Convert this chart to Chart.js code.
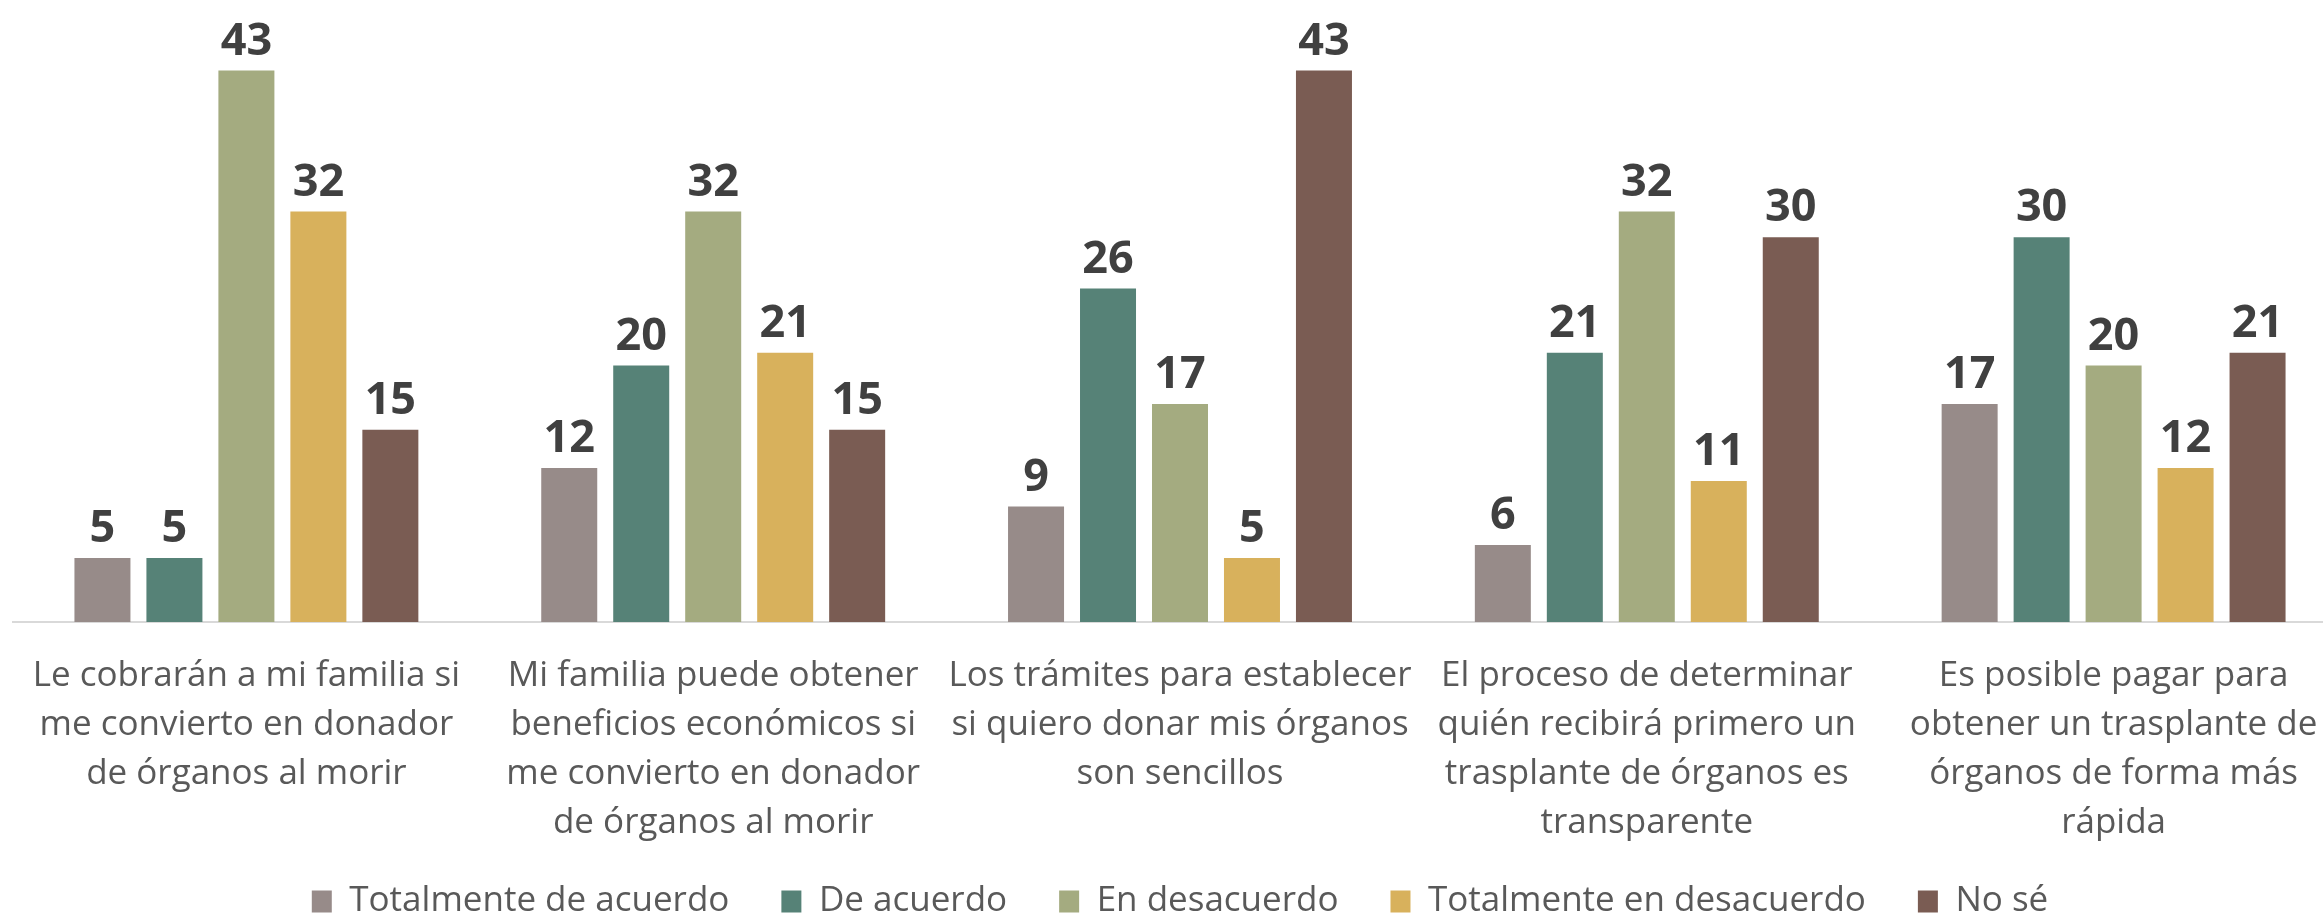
<!DOCTYPE html>
<html>
<head>
<meta charset="utf-8">
<script src="https://cdn.jsdelivr.net/npm/chart.js@4/dist/chart.umd.min.js"></script>
<style>
  html, body { margin:0; padding:0; background:#fff; overflow:hidden; }
  #wrap { position:absolute; left:0; top:0; width:2360px; height:929px; }
</style>
</head>
<body>
<div id="wrap"><canvas id="chartCanvas"></canvas></div>
<script>
// categories (wrapped as in the original)
const categories = [
  ['Le cobrarán a mi familia si', 'me convierto en donador', 'de órganos al morir'],
  ['Mi familia puede obtener', 'beneficios económicos si', 'me convierto en donador', 'de órganos al morir'],
  ['Los trámites para establecer', 'si quiero donar mis órganos', 'son sencillos'],
  ['El proceso de determinar', 'quién recibirá primero un', 'trasplante de órganos es', 'transparente'],
  ['Es posible pagar para', 'obtener un trasplante de', 'órganos de forma más', 'rápida']
];
const seriesNames = ['Totalmente de acuerdo', 'De acuerdo', 'En desacuerdo', 'Totalmente en desacuerdo', 'No sé'];
const totalmenteAcuerdo    = [5, 12, 9, 6, 17];
const deAcuerdo            = [5, 20, 26, 21, 30];
const enDesacuerdo         = [43, 32, 17, 32, 20];
const totalmenteDesacuerdo = [32, 21, 5, 11, 12];
const noSe                 = [15, 15, 43, 30, 21];
const colors = ['#978B89', '#568277', '#A4AB80', '#D8B15C', '#7A5C53'];

const FONT = '"Open Sans", "Noto Sans", sans-serif';

// bold value labels above each bar
const valueLabels = {
  id: 'valueLabels',
  afterDatasetsDraw(chart){
    const ctx = chart.ctx;
    ctx.save();
    ctx.font = 'bold 45px ' + FONT;
    ctx.fillStyle = '#404040';
    ctx.textAlign = 'center';
    ctx.textBaseline = 'alphabetic';
    chart.data.datasets.forEach((ds, i) => {
      chart.getDatasetMeta(i).data.forEach((bar, j) => {
        ctx.fillText(ds.data[j], bar.x, bar.y - 16);
      });
    });
    ctx.restore();
  }
};

// x scale is kept short so the legend sits high, but its labels must not be clipped
const unclipTicks = {
  id: 'unclipTicks',
  afterLayout(chart){
    chart.scales.x.bottom = chart.height;
  }
};

const allSeries = [totalmenteAcuerdo, deAcuerdo, enDesacuerdo, totalmenteDesacuerdo, noSe];

new Chart(document.getElementById('chartCanvas'), {
  type: 'bar',
  data: {
    labels: categories,
    datasets: allSeries.map((d, i) => ({
      label: seriesNames[i],
      data: d,
      backgroundColor: colors[i],
      borderWidth: 0,
      categoryPercentage: 0.771,
      barPercentage: 0.778
    }))
  },
  options: {
    responsive: true,
    maintainAspectRatio: false,
    animation: false,
    events: [],
    layout: { padding: { left: 13, right: 13, top: 0, bottom: 0 } },
    plugins: {
      tooltip: { enabled: false },
      legend: {
        position: 'bottom',
        labels: {
          font: { family: FONT, size: 35 },
          color: '#595959',
          boxWidth: 20,
          boxHeight: 22,
          padding: 52
        }
      }
    },
    scales: {
      x: {
        grid: { display: false },
        border: { display: true, color: '#D9D9D9', width: 2 },
        ticks: {
          font: { family: FONT, size: 35, lineHeight: 1.4 },
          color: '#595959',
          maxRotation: 0, minRotation: 0, autoSkip: false,
          padding: 22
        },
        afterFit(scale){ scale.height = 210; }
      },
      y: { display: false, min: 0, max: 48.5 }
    }
  },
  plugins: [valueLabels, unclipTicks]
});
</script>
</body>
</html>
